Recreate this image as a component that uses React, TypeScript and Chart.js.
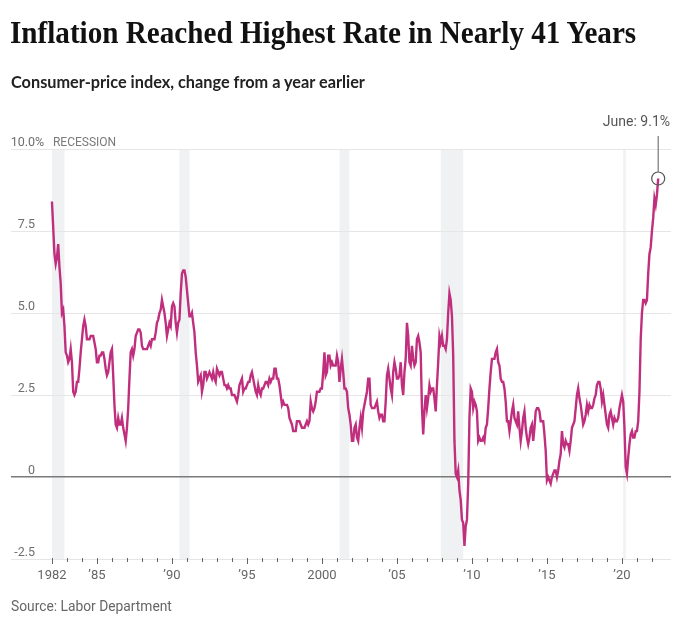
import React, { useEffect, useRef } from "react";
import { Chart, registerables } from "chart.js";

Chart.register(...registerables);

// ---------- data ----------
const startYear = 1982;
// CPI, % change from a year earlier, monthly (Jan..Dec), one row per year
const cpiByYear: number[][] = [
  [8.4, 7.6, 6.8, 6.5, 6.7, 7.1, 6.4, 5.9, 5.0, 5.1, 4.6, 3.8], // 1982
  [3.7, 3.5, 3.6, 3.9, 3.5, 2.6, 2.5, 2.6, 2.9, 2.9, 3.3, 3.8], // 1983
  [4.2, 4.6, 4.8, 4.6, 4.2, 4.2, 4.2, 4.3, 4.3, 4.3, 4.1, 3.9], // 1984
  [3.5, 3.5, 3.7, 3.7, 3.8, 3.8, 3.6, 3.3, 3.1, 3.2, 3.5, 3.8], // 1985
  [3.9, 3.1, 2.2, 1.6, 1.5, 1.8, 1.6, 1.6, 1.8, 1.5, 1.3, 1.1], // 1986
  [1.5, 2.1, 3.0, 3.8, 3.9, 3.7, 3.9, 4.3, 4.4, 4.5, 4.5, 4.4], // 1987
  [4.0, 3.9, 3.9, 3.9, 3.9, 4.0, 4.1, 4.0, 4.2, 4.2, 4.2, 4.4], // 1988
  [4.7, 4.8, 5.0, 5.1, 5.4, 5.2, 5.0, 4.7, 4.3, 4.5, 4.7, 4.6], // 1989
  [5.2, 5.3, 5.2, 4.7, 4.4, 4.7, 4.8, 5.6, 6.2, 6.3, 6.3, 6.1], // 1990
  [5.7, 5.3, 4.9, 4.9, 5.0, 4.7, 4.4, 3.8, 3.4, 2.9, 3.0, 3.1], // 1991
  [2.6, 2.8, 3.2, 3.2, 3.0, 3.1, 3.2, 3.1, 3.0, 3.2, 3.0, 2.9], // 1992
  [3.3, 3.2, 3.1, 3.2, 3.2, 3.0, 2.8, 2.8, 2.7, 2.8, 2.7, 2.7], // 1993
  [2.5, 2.5, 2.5, 2.4, 2.3, 2.5, 2.8, 2.9, 3.0, 2.6, 2.7, 2.7], // 1994
  [2.8, 2.9, 2.9, 3.1, 3.2, 3.0, 2.8, 2.6, 2.5, 2.8, 2.6, 2.5], // 1995
  [2.7, 2.7, 2.8, 2.9, 2.9, 2.8, 3.0, 2.9, 3.0, 3.0, 3.3, 3.3], // 1996
  [3.0, 3.0, 2.8, 2.5, 2.2, 2.3, 2.2, 2.2, 2.2, 2.1, 1.8, 1.7], // 1997
  [1.6, 1.4, 1.4, 1.4, 1.7, 1.7, 1.7, 1.6, 1.5, 1.5, 1.5, 1.6], // 1998
  [1.7, 1.6, 1.7, 2.3, 2.1, 2.0, 2.1, 2.3, 2.6, 2.6, 2.6, 2.7], // 1999
  [2.7, 3.2, 3.8, 3.1, 3.2, 3.7, 3.7, 3.4, 3.5, 3.4, 3.4, 3.4], // 2000
  [3.7, 3.5, 2.9, 3.3, 3.6, 3.2, 2.7, 2.7, 2.6, 2.1, 1.9, 1.6], // 2001
  [1.1, 1.1, 1.5, 1.6, 1.2, 1.1, 1.5, 1.8, 1.5, 2.0, 2.2, 2.4], // 2002
  [2.6, 3.0, 3.0, 2.2, 2.1, 2.1, 2.1, 2.2, 2.3, 2.0, 1.8, 1.9], // 2003
  [1.9, 1.7, 1.7, 2.3, 3.1, 3.3, 3.0, 2.7, 2.5, 3.2, 3.5, 3.3], // 2004
  [3.0, 3.0, 3.1, 3.5, 2.8, 2.5, 3.2, 3.6, 4.7, 4.3, 3.5, 3.4], // 2005
  [4.0, 3.6, 3.4, 3.5, 4.2, 4.3, 4.1, 3.8, 2.1, 1.3, 2.0, 2.5], // 2006
  [2.1, 2.4, 2.8, 2.6, 2.7, 2.7, 2.4, 2.0, 2.8, 3.5, 4.3, 4.1], // 2007
  [4.3, 4.0, 4.0, 3.9, 4.2, 5.0, 5.6, 5.4, 4.9, 3.7, 1.1, 0.1], // 2008
  [0.0, 0.2, -0.4, -0.7, -1.3, -1.4, -2.1, -1.5, -1.3, -0.2, 1.8, 2.7], // 2009
  [2.6, 2.1, 2.3, 2.2, 2.0, 1.1, 1.2, 1.1, 1.1, 1.2, 1.1, 1.5], // 2010
  [1.6, 2.1, 2.7, 3.2, 3.6, 3.6, 3.6, 3.8, 3.9, 3.5, 3.4, 3.0], // 2011
  [2.9, 2.9, 2.7, 2.3, 1.7, 1.7, 1.4, 1.7, 2.0, 2.2, 1.8, 1.7], // 2012
  [1.6, 2.0, 1.5, 1.1, 1.4, 1.8, 2.0, 1.5, 1.2, 1.0, 1.2, 1.5], // 2013
  [1.6, 1.1, 1.5, 2.0, 2.1, 2.1, 2.0, 1.7, 1.7, 1.7, 1.3, 0.8], // 2014
  [-0.1, 0.0, -0.1, -0.2, 0.0, 0.1, 0.2, 0.2, 0.0, 0.2, 0.5, 0.7], // 2015
  [1.4, 1.0, 0.9, 1.1, 1.0, 1.0, 0.8, 1.1, 1.5, 1.6, 1.7, 2.1], // 2016
  [2.5, 2.7, 2.4, 2.2, 1.9, 1.6, 1.7, 1.9, 2.2, 2.0, 2.2, 2.1], // 2017
  [2.1, 2.2, 2.4, 2.5, 2.8, 2.9, 2.9, 2.7, 2.3, 2.5, 2.2, 1.9], // 2018
  [1.6, 1.5, 1.9, 2.0, 1.8, 1.6, 1.8, 1.7, 1.7, 1.8, 2.1, 2.3], // 2019
  [2.5, 2.3, 1.5, 0.3, 0.1, 0.6, 1.0, 1.3, 1.4, 1.2, 1.2, 1.4], // 2020
  [1.4, 1.7, 2.6, 4.2, 5.0, 5.4, 5.4, 5.3, 5.4, 6.2, 6.8, 7.0], // 2021
  [7.5, 7.9, 8.5, 8.3, 8.6, 9.1], // 2022 (Jan-Jun)
];

// recessions (decimal years), shaded bands
const recessionStarts = [1982.0, 1990.5, 2001.17, 2007.92, 2020.08];
const recessionEnds = [1982.83, 1991.17, 2001.83, 2009.42, 2020.25];

const yTickValues = [-2.5, 0, 2.5, 5, 7.5, 10];
const yTickLabels = ["-2.5", "0", "2.5", "5.0", "7.5", "10.0"];

const xTickYears = [1982, 1985, 1990, 1995, 2000, 2005, 2010, 2015, 2020];
const xTickLabels = ["1982", "\u201985", "\u201990", "\u201995", "2000", "\u201905", "\u201910", "\u201915", "\u201920"];
const firstYearTick = 1982;
const lastYearTick = 2022;

const xMin = 1979.27;
const xMax = 2023.27;

const annotationText = "June: 9.1%";
const titleText = "Inflation Reached Highest Rate in Nearly 41 Years";
const subtitleText = "Consumer-price index, change from a year earlier";
const sourceText = "Source: Labor Department";

const LINE_COLOR = "#c02f7e";

export default function App() {
  const canvasRef = useRef<HTMLCanvasElement | null>(null);

  useEffect(() => {
    document.body.style.margin = "0";
    const canvas = canvasRef.current;
    if (!canvas) return;

    const points: { x: number; y: number }[] = [];
    cpiByYear.forEach((row, yi) => {
      row.forEach((v, mi) => {
        points.push({ x: startYear + yi + mi / 12, y: v });
      });
    });

    const bandsPlugin = {
      id: "recessionBands",
      beforeDraw(chart: any) {
        const { ctx, chartArea, scales } = chart;
        const xs = scales.x;
        ctx.save();
        ctx.fillStyle = "#f0f1f3";
        for (let i = 0; i < recessionStarts.length; i++) {
          const x0 = xs.getPixelForValue(recessionStarts[i]);
          const x1 = xs.getPixelForValue(recessionEnds[i]);
          ctx.fillRect(x0, chartArea.top, x1 - x0, chartArea.bottom - chartArea.top);
        }
        ctx.restore();
      },
    };

    const labelsPlugin = {
      id: "customLabels",
      afterDraw(chart: any) {
        const { ctx, chartArea, scales } = chart;
        const xs = scales.x;
        const ys = scales.y;
        ctx.save();

        // y labels, sitting above their gridlines
        ctx.font = "12.5px Roboto";
        ctx.fillStyle = "#6f6f6f";
        ctx.textBaseline = "alphabetic";
        const labelRight = chartArea.left + 24;
        yTickValues.forEach((v, i) => {
          const py = ys.getPixelForValue(v) - 3.5;
          ctx.textAlign = "right";
          ctx.fillText(yTickLabels[i], labelRight, py);
          if (i === yTickValues.length - 1) {
            ctx.textAlign = "left";
            ctx.fillText("%", labelRight, py);
            ctx.fillStyle = "#7a7a7a";
            ctx.font = "12px Roboto";
            ctx.fillText("RECESSION", xs.getPixelForValue(recessionStarts[0]) + 1, py);
          }
        });

        // x ticks & labels
        ctx.strokeStyle = "#666";
        ctx.lineWidth = 1;
        for (let yr = firstYearTick; yr <= lastYearTick; yr++) {
          const px = Math.round(xs.getPixelForValue(yr)) + 0.5;
          const long = xTickYears.indexOf(yr) >= 0;
          ctx.beginPath();
          ctx.moveTo(px, chartArea.bottom - 1);
          ctx.lineTo(px, chartArea.bottom + (long ? 5 : 3));
          ctx.stroke();
        }
        ctx.font = "13px Roboto";
        ctx.fillStyle = "#666";
        ctx.textAlign = "center";
        xTickYears.forEach((yr, i) => {
          ctx.fillText(xTickLabels[i], xs.getPixelForValue(yr), chartArea.bottom + 20);
        });

        // annotation on the last point
        const meta = chart.getDatasetMeta(0);
        const last = meta.data[meta.data.length - 1];
        const r = 6.5;
        ctx.strokeStyle = "#555";
        ctx.lineWidth = 1.2;
        ctx.beginPath();
        ctx.arc(last.x, last.y, r, 0, Math.PI * 2);
        ctx.stroke();
        ctx.strokeStyle = "#777";
        ctx.beginPath();
        ctx.moveTo(last.x, chartArea.top - 13);
        ctx.lineTo(last.x, last.y - r);
        ctx.stroke();
        ctx.font = "14px Roboto";
        ctx.fillStyle = "#555";
        ctx.textAlign = "right";
        ctx.fillText(annotationText, chartArea.right - 1, chartArea.top - 23);

        ctx.restore();
      },
    };

    const chart = new Chart(canvas, {
      type: "line",
      data: {
        datasets: [
          {
            data: points,
            borderColor: LINE_COLOR,
            borderWidth: 2.4,
            pointRadius: 0,
            tension: 0,
            fill: false,
          },
        ],
      },
      options: {
        responsive: false,
        animation: false,
        devicePixelRatio: 1,
        layout: { padding: { top: 149, left: 11, right: 29, bottom: 65 } },
        plugins: { legend: { display: false }, tooltip: { enabled: false } },
        scales: {
          x: {
            type: "linear",
            min: xMin,
            max: xMax,
            grid: { display: false, drawTicks: false },
            border: { display: false },
            ticks: { display: false },
            afterFit: (s: any) => {
              s.height = 0;
            },
          },
          y: {
            min: -2.5,
            max: 10,
            ticks: { stepSize: 2.5, display: false },
            grid: {
              drawTicks: false,
              color: (c: any) => (c.tick && c.tick.value === 0 ? "#7a7a7a" : "#e6e6e6"),
              lineWidth: (c: any) => (c.tick && c.tick.value === 0 ? 1.5 : 1),
            },
            border: { display: false },
            afterFit: (s: any) => {
              s.width = 0;
            },
          },
        },
      },
      plugins: [bandsPlugin, labelsPlugin],
    } as any);

    return () => chart.destroy();
  }, []);

  return (
    <div style={{ position: "absolute", left: 0, top: 0, width: 700, height: 624, background: "#fff" }}>
      <canvas ref={canvasRef} width={700} height={624} style={{ position: "absolute", left: 0, top: 0, width: 700, height: 624 }} />
      <div
        style={{
          position: "absolute",
          left: 10,
          top: 17,
          font: "bold 31px 'Liberation Serif'",
          lineHeight: "31px",
          color: "#111",
          whiteSpace: "nowrap",
          transform: "scaleX(0.94)",
          transformOrigin: "left top",
        }}
      >
        {titleText}
      </div>
      <div
        style={{
          position: "absolute",
          left: 11,
          top: 74,
          font: "bold 16.3px Lato",
          lineHeight: "16.3px",
          color: "#222",
          whiteSpace: "nowrap",
        }}
      >
        {subtitleText}
      </div>
      <div
        style={{
          position: "absolute",
          left: 11,
          top: 600,
          font: "13.8px Roboto",
          lineHeight: "13.8px",
          color: "#666",
          whiteSpace: "nowrap",
        }}
      >
        {sourceText}
      </div>
    </div>
  );
}
